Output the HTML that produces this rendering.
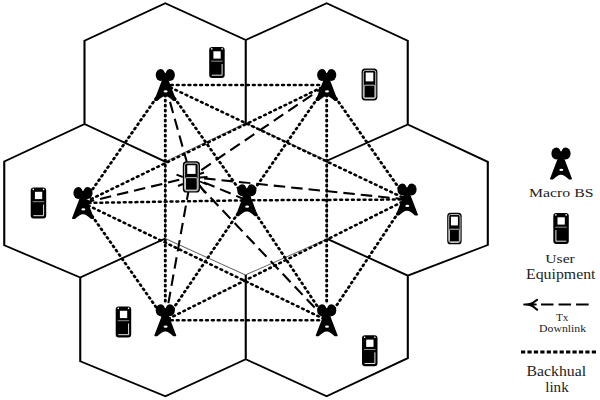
<!DOCTYPE html>
<html><head><meta charset="utf-8"><style>
html,body{margin:0;padding:0;background:#fff;}
svg{display:block;}
text{font-family:"Liberation Serif",serif;fill:#222;}
</style></head><body>
<svg width="600" height="400" viewBox="0 0 600 400">
<rect width="600" height="400" fill="#fff"/>
<g transform="scale(1.17 1)">
<path d="M 141.28,161.6 L 210.09,123 L 279.49,160.75 M 141.28,161.6 V 238.5 M 279.49,160.75 V 238.9 M 141.24,238.5 L 209.74,275 L 279.7,238.9" fill="none" stroke="#666" stroke-width="0.9"/>
<path d="M 72.22,124 V 40.7 L 141.28,3.3 L 210.04,40 V 123 M 210.04,40 L 279.23,3.3 L 348.5,40.75 V 124.5 M 72.31,124 L 3.63,161.5 V 245.25 L 68.59,277.5 M 72.22,124 L 141.28,161.6 M 279.49,160.75 L 348.55,124.5 L 416.92,161.9 V 245 L 348.55,275.6 M 141.24,238.5 L 68.59,277.5 V 361.25 L 141.37,396.3 L 210.04,359.25 V 275 M 210.04,359.25 L 279.15,396.25 L 348.55,358.1 V 275.6 L 279.7,238.9" fill="none" stroke="#000" stroke-width="1.8" stroke-linejoin="miter"/>
<path d="M141.28,85 L279.23,85 M141.28,85 L70.94,203 M141.28,85 L210.94,200.3 M141.28,85 L347.86,199.5 M141.28,85 L141.28,320.3 M279.23,85 L70.94,203 M279.23,85 L210.94,200.3 M279.23,85 L347.86,199.5 M279.23,85 L279.23,320.3 M70.94,203 L210.94,200.3 M70.94,203 L141.28,320.3 M70.94,203 L279.23,320.3 M210.94,200.3 L347.86,199.5 M210.94,200.3 L141.28,320.3 M210.94,200.3 L279.23,320.3 M347.86,199.5 L141.28,320.3 M347.86,199.5 L279.23,320.3 M141.28,320.3 L279.23,320.3" fill="none" stroke="#000" stroke-width="2.5" stroke-linecap="round" stroke-dasharray="1.3 3.7"/>
<path d="M 462.39,304.5 H 503.42" stroke="#000" stroke-width="2.2" stroke-dasharray="10.7 4.3" fill="none"/>
<path d="M 445.3,352 H 510.68" stroke="#000" stroke-width="3" stroke-dasharray="3.6 1.9" fill="none"/>
</g>
<path d="M165.3,85 L191,177 M326.7,85 L191,177 M83,203 L191,177 M246.8,200.3 L191,177 M407,199.5 L191,177 M165.3,320.3 L191,177 M326.7,320.3 L191,177" fill="none" stroke="#000" stroke-width="2.1" stroke-dasharray="11.5 6"/>
<g transform="translate(165.3 85)"><ellipse cx="-4.6" cy="-10" rx="5" ry="6" fill="#000"/>
<ellipse cx="4.6" cy="-10" rx="5" ry="6" fill="#000"/>
<path d="M-2.6,-16.5 L0,-11.6 L2.6,-16.5 Z" fill="#fff"/>
<path d="M-0.6,-12 L0.6,-12 L10.9,15 Q11.2,15.9 10.2,15.9 L8,15.9 Q3,11 0,11.2 Q-3,11 -8,15.9 L-10.2,15.9 Q-11.2,15.9 -10.9,15 Z" fill="#000"/>
<ellipse cx="0.3" cy="6.4" rx="2" ry="1.1" fill="#fff"/></g>
<g transform="translate(326.7 85)"><ellipse cx="-4.6" cy="-10" rx="5" ry="6" fill="#000"/>
<ellipse cx="4.6" cy="-10" rx="5" ry="6" fill="#000"/>
<path d="M-2.6,-16.5 L0,-11.6 L2.6,-16.5 Z" fill="#fff"/>
<path d="M-0.6,-12 L0.6,-12 L10.9,15 Q11.2,15.9 10.2,15.9 L8,15.9 Q3,11 0,11.2 Q-3,11 -8,15.9 L-10.2,15.9 Q-11.2,15.9 -10.9,15 Z" fill="#000"/>
<ellipse cx="0.3" cy="6.4" rx="2" ry="1.1" fill="#fff"/></g>
<g transform="translate(83 203)"><ellipse cx="-4.6" cy="-10" rx="5" ry="6" fill="#000"/>
<ellipse cx="4.6" cy="-10" rx="5" ry="6" fill="#000"/>
<path d="M-2.6,-16.5 L0,-11.6 L2.6,-16.5 Z" fill="#fff"/>
<path d="M-0.6,-12 L0.6,-12 L10.9,15 Q11.2,15.9 10.2,15.9 L8,15.9 Q3,11 0,11.2 Q-3,11 -8,15.9 L-10.2,15.9 Q-11.2,15.9 -10.9,15 Z" fill="#000"/>
<ellipse cx="0.3" cy="6.4" rx="2" ry="1.1" fill="#fff"/></g>
<g transform="translate(246.8 200.3)"><ellipse cx="-4.6" cy="-10" rx="5" ry="6" fill="#000"/>
<ellipse cx="4.6" cy="-10" rx="5" ry="6" fill="#000"/>
<path d="M-2.6,-16.5 L0,-11.6 L2.6,-16.5 Z" fill="#fff"/>
<path d="M-0.6,-12 L0.6,-12 L10.9,15 Q11.2,15.9 10.2,15.9 L8,15.9 Q3,11 0,11.2 Q-3,11 -8,15.9 L-10.2,15.9 Q-11.2,15.9 -10.9,15 Z" fill="#000"/>
<ellipse cx="0.3" cy="6.4" rx="2" ry="1.1" fill="#fff"/></g>
<g transform="translate(407 199.5)"><ellipse cx="-4.6" cy="-10" rx="5" ry="6" fill="#000"/>
<ellipse cx="4.6" cy="-10" rx="5" ry="6" fill="#000"/>
<path d="M-2.6,-16.5 L0,-11.6 L2.6,-16.5 Z" fill="#fff"/>
<path d="M-0.6,-12 L0.6,-12 L10.9,15 Q11.2,15.9 10.2,15.9 L8,15.9 Q3,11 0,11.2 Q-3,11 -8,15.9 L-10.2,15.9 Q-11.2,15.9 -10.9,15 Z" fill="#000"/>
<ellipse cx="0.3" cy="6.4" rx="2" ry="1.1" fill="#fff"/></g>
<g transform="translate(165.3 320.3)"><ellipse cx="-4.6" cy="-10" rx="5" ry="6" fill="#000"/>
<ellipse cx="4.6" cy="-10" rx="5" ry="6" fill="#000"/>
<path d="M-2.6,-16.5 L0,-11.6 L2.6,-16.5 Z" fill="#fff"/>
<path d="M-0.6,-12 L0.6,-12 L10.9,15 Q11.2,15.9 10.2,15.9 L8,15.9 Q3,11 0,11.2 Q-3,11 -8,15.9 L-10.2,15.9 Q-11.2,15.9 -10.9,15 Z" fill="#000"/>
<ellipse cx="0.3" cy="6.4" rx="2" ry="1.1" fill="#fff"/></g>
<g transform="translate(326.7 320.3)"><ellipse cx="-4.6" cy="-10" rx="5" ry="6" fill="#000"/>
<ellipse cx="4.6" cy="-10" rx="5" ry="6" fill="#000"/>
<path d="M-2.6,-16.5 L0,-11.6 L2.6,-16.5 Z" fill="#fff"/>
<path d="M-0.6,-12 L0.6,-12 L10.9,15 Q11.2,15.9 10.2,15.9 L8,15.9 Q3,11 0,11.2 Q-3,11 -8,15.9 L-10.2,15.9 Q-11.2,15.9 -10.9,15 Z" fill="#000"/>
<ellipse cx="0.3" cy="6.4" rx="2" ry="1.1" fill="#fff"/></g>
<g transform="translate(553.3 213)"><rect x="0" y="0" width="15.5" height="31" rx="3" fill="#000"/>
<rect x="4.2" y="4.3" width="7.3" height="7.3" fill="#fff"/>
<circle cx="2.6" cy="1.9" r="0.8" fill="#fff"/>
<circle cx="12.9" cy="1.9" r="0.8" fill="#fff"/>
<path d="M2,14.2 H13.5" stroke="#ccc" stroke-width="0.7"/>
<path d="M2.6,17 V28.2 H13" stroke="#fff" stroke-width="0.9" fill="none"/></g>
<g transform="translate(209.2 47)"><rect x="0" y="0" width="15.5" height="31" rx="3" fill="#000"/>
<rect x="4.2" y="4.3" width="7.3" height="7.3" fill="#fff"/>
<circle cx="2.6" cy="1.9" r="0.8" fill="#fff"/>
<circle cx="12.9" cy="1.9" r="0.8" fill="#fff"/>
<path d="M2,14.2 H13.5" stroke="#ccc" stroke-width="0.7"/>
<path d="M2.6,28.2 H12.9 V17" stroke="#fff" stroke-width="0.9" fill="none"/></g>
<g transform="translate(30.7 187.5)"><rect x="0" y="0" width="15.5" height="31" rx="3" fill="#000"/>
<rect x="4.2" y="4.3" width="7.3" height="7.3" fill="#fff"/>
<circle cx="2.6" cy="1.9" r="0.8" fill="#fff"/>
<circle cx="12.9" cy="1.9" r="0.8" fill="#fff"/>
<path d="M2,14.2 H13.5" stroke="#ccc" stroke-width="0.7"/>
<path d="M2.6,28.2 H12.9 V17" stroke="#fff" stroke-width="0.9" fill="none"/></g>
<g transform="translate(115.7 306.5)"><rect x="0" y="0" width="15.5" height="31" rx="3" fill="#000"/>
<rect x="4.2" y="4.3" width="7.3" height="7.3" fill="#fff"/>
<circle cx="2.6" cy="1.9" r="0.8" fill="#fff"/>
<circle cx="12.9" cy="1.9" r="0.8" fill="#fff"/>
<path d="M2,14.2 H13.5" stroke="#ccc" stroke-width="0.7"/>
<path d="M2.6,28.2 H12.9 V17" stroke="#fff" stroke-width="0.9" fill="none"/></g>
<g transform="translate(362 335.3)"><rect x="0" y="0" width="15.5" height="31" rx="3" fill="#000"/>
<rect x="4.2" y="4.3" width="7.3" height="7.3" fill="#fff"/>
<circle cx="2.6" cy="1.9" r="0.8" fill="#fff"/>
<circle cx="12.9" cy="1.9" r="0.8" fill="#fff"/>
<path d="M2,14.2 H13.5" stroke="#ccc" stroke-width="0.7"/>
<path d="M2.6,28.2 H12.9 V17" stroke="#fff" stroke-width="0.9" fill="none"/></g>
<g transform="translate(361.6 68.5) scale(0.93 1.03)"><rect x="0" y="0" width="17" height="31" rx="3.6" fill="#000"/>
<rect x="1.8" y="1.8" width="13.4" height="27.4" rx="2.2" fill="none" stroke="#fff" stroke-width="0.8"/>
<rect x="4.4" y="3.9" width="8.2" height="8.6" fill="#fff"/>
<rect x="2.7" y="16.2" width="11.6" height="12.3" rx="1" fill="#000" stroke="#fff" stroke-width="0.8"/></g>
<g transform="translate(447.2 212.7) scale(0.85 1.02)"><rect x="0" y="0" width="17" height="31" rx="3.6" fill="#000"/>
<rect x="1.8" y="1.8" width="13.4" height="27.4" rx="2.2" fill="none" stroke="#fff" stroke-width="0.8"/>
<rect x="4.4" y="3.9" width="8.2" height="8.6" fill="#fff"/>
<rect x="2.7" y="16.2" width="11.6" height="12.3" rx="1" fill="#000" stroke="#fff" stroke-width="0.8"/></g>
<g transform="translate(182.8 161.3) scale(1.01 1.01)"><rect x="0" y="0" width="17" height="31" rx="3.6" fill="#000"/>
<rect x="1.8" y="1.8" width="13.4" height="27.4" rx="2.2" fill="none" stroke="#fff" stroke-width="0.8"/>
<rect x="4.4" y="3.9" width="8.2" height="8.6" fill="#fff"/>
<rect x="2.7" y="16.2" width="11.6" height="12.3" rx="1" fill="#000" stroke="#fff" stroke-width="0.8"/></g>
<path d="M176.5,174.7 L182.7,177 M178,186 L183,184 M199.5,174 L204,172.5 M200,177.5 L207.5,177 M200,181.5 L207,184.5 M199.5,185 L205,193" stroke="#000" stroke-width="1.9" fill="none"/>
<g transform="translate(561 163.5)"><ellipse cx="-4.6" cy="-10" rx="5" ry="6" fill="#000"/>
<ellipse cx="4.6" cy="-10" rx="5" ry="6" fill="#000"/>
<path d="M-2.6,-16.5 L0,-11.6 L2.6,-16.5 Z" fill="#fff"/>
<path d="M-0.6,-12 L0.6,-12 L10.9,15 Q11.2,15.9 10.2,15.9 L8,15.9 Q3,11 0,11.2 Q-3,11 -8,15.9 L-10.2,15.9 Q-11.2,15.9 -10.9,15 Z" fill="#000"/>
<ellipse cx="0.3" cy="6.4" rx="2" ry="1.1" fill="#fff"/></g>
<path d="M524.2,304.5 H535.8 M528.5,304.5 Q533,303.5 537.2,299.8 M528.5,304.5 Q533,305.5 537.2,309.8" stroke="#000" stroke-width="2" stroke-linecap="round" fill="none"/><path d="M523.5,304.5 L530,303 L530,306 Z" fill="#000"/>
<text x="529" y="197.1" font-size="13.4" textLength="64.5" lengthAdjust="spacingAndGlyphs">Macro BS</text>
<text x="545.3" y="262.7" font-size="13.4" textLength="29.5" lengthAdjust="spacingAndGlyphs">User</text>
<text x="526" y="279" font-size="13.6" textLength="69.5" lengthAdjust="spacingAndGlyphs">Equipment</text>
<text x="556" y="320.5" font-size="10" textLength="12.5" lengthAdjust="spacingAndGlyphs" fill="#404040">Tx</text>
<text x="539.1" y="332.4" font-size="10" textLength="47" lengthAdjust="spacingAndGlyphs" fill="#404040">Downlink</text>
<text x="526.6" y="376" font-size="13.7" textLength="59.5" lengthAdjust="spacingAndGlyphs">Backhual</text>
<text x="545.2" y="391.9" font-size="13.7" textLength="23.5" lengthAdjust="spacingAndGlyphs">link</text>
</svg>
</body></html>
